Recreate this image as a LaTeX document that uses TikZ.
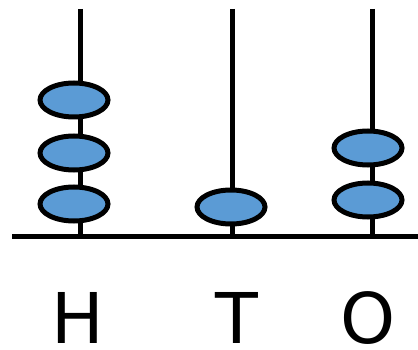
\documentclass[tikz,border=0pt]{standalone}
\usepackage{fontspec}
\setmainfont{DejaVu Sans}
\usetikzlibrary{shapes.geometric}
\definecolor{beadblue}{HTML}{5B9BD5}

\begin{document}
\begin{tikzpicture}[x=1pt, y=-1pt,
    rod/.style={line width=5pt},
    bead/.style={ellipse, draw=black, fill=beadblue, line width=5pt,
        minimum width=68pt, minimum height=34pt, inner sep=0pt},
    place/.style={font=\fontsize{70}{70}\selectfont, inner sep=0pt},
]
\useasboundingbox (0,0) rectangle (418,350);

% base
\coordinate (base west) at (12,236);
\coordinate (base east) at (418,236);
\draw[rod] (base west) -- (base east);

% rods
\foreach \name/\x in {h/80,t/232,o/372}{
    \coordinate (\name top) at (\x,9);
    \coordinate (\name foot) at (\x,236);
    \draw[rod] (\name top) -- (\name foot);
}

% beads
\foreach \y [count=\i] in {204,153,100}{
    \node[bead] (h\i) at (74,\y) {};
}
\node[bead] (t1) at (231,207) {};
\foreach \y [count=\i] in {200,148}{
    \node[bead] (o\i) at (368,\y) {};
}

% place values
\node[place] (hlabel) at (78,318) {H};
\node[place] (tlabel) at (237,318) {T};
\node[place] (olabel) at (368,318) {O};

\end{tikzpicture}
\end{document}
